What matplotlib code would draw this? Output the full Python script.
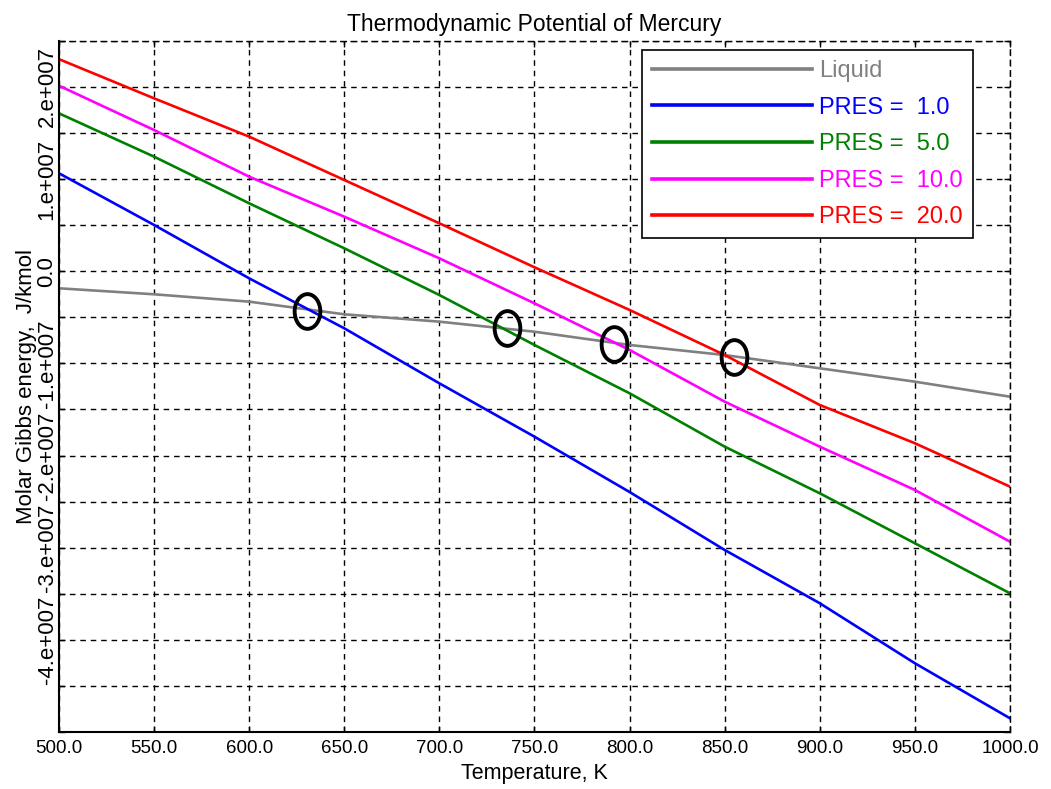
import matplotlib
matplotlib.use("Agg")
import matplotlib.pyplot as plt
from matplotlib.path import Path
from matplotlib.ticker import FuncFormatter, MultipleLocator
import numpy as np

plt.rcParams['font.family'] = ['Liberation Sans', 'DejaVu Sans']

# temperature, K
temp = [500, 550, 600, 650, 700, 750, 800, 850, 900, 950, 1000]

# molar Gibbs energy, units of 1e7 J/kmol
g_liquid = [-0.186, -0.251, -0.331, -0.468, -0.548, -0.657, -0.801, -0.910, -1.054, -1.199, -1.362]
g_p1 = [1.062, 0.501, -0.078, -0.620, -1.217, -1.796, -2.396, -3.025, -3.603, -4.254, -4.851]
g_p5 = [1.712, 1.242, 0.736, 0.248, -0.259, -0.801, -1.325, -1.904, -2.410, -2.952, -3.495]
g_p10 = [2.012, 1.531, 1.025, 0.591, 0.139, -0.349, -0.855, -1.416, -1.904, -2.374, -2.935]
g_p20 = [2.300, 1.875, 1.459, 0.989, 0.519, 0.042, -0.421, -0.910, -1.452, -1.867, -2.338]

labels = ['Liquid', 'PRES =  1.0', 'PRES =  5.0', 'PRES =  10.0', 'PRES =  20.0']
colors = ['#808080', '#0000ff', '#008000', '#ff00ff', '#ff0000']

# crossing points (boiling temperatures) marked with rings
mark_T = [630.4, 735.5, 791.8, 854.9]
mark_G = [-0.432, -0.617, -0.790, -0.931]

fig = plt.figure(figsize=(10.51, 7.89), dpi=100)
ax = fig.add_axes([0.0561, 0.0722, 0.9049, 0.8762])

scale = 1e7
for g, lab, col in zip([g_liquid, g_p1, g_p5, g_p10, g_p20], labels, colors):
    ax.plot(temp, np.array(g) * scale, color=col, lw=1.9, label=lab)

# tall open ring marker
circ = Path.unit_circle()
ring = Path(circ.vertices * np.array([0.74, 1.0]), circ.codes)
ax.plot(mark_T, np.array(mark_G) * scale, ls='none', marker=ring, ms=25,
        mfc='none', mec='black', mew=2.8, zorder=5)

ax.set_xlim(500, 1000)
ax.set_ylim(-5.0e7, 2.5e7)
ax.xaxis.set_major_locator(MultipleLocator(50))
ax.yaxis.set_major_locator(MultipleLocator(0.5e7))
ax.xaxis.set_major_formatter(FuncFormatter(lambda v, p: '%.1f' % v))


def ylab(v, p):
    k = v / 1e7
    if abs(k) < 1e-9:
        return '0.0'
    if abs(k - round(k)) > 1e-9 or k < -4.5 or k > 2.4:
        return ''
    return '%d.e+007' % round(k)


ax.yaxis.set_major_formatter(FuncFormatter(ylab))
ax.grid(True, color='black', ls=(0, (4, 3.5)), lw=1.0)
ax.tick_params(direction='in', length=4, width=1, top=True, right=True, colors='black')
ax.tick_params(axis='x', labelsize=13.5, pad=6)
ax.tick_params(axis='y', labelsize=16, pad=1)
for t in ax.get_yticklabels():
    t.set_rotation(90)
    t.set_va('center')

for s in ['left', 'bottom']:
    ax.spines[s].set_linewidth(1.5)
for s in ['top', 'right']:
    ax.spines[s].set_linestyle((0, (4, 3.5)))
    ax.spines[s].set_linewidth(1.0)

ax.set_title('Thermodynamic Potential of Mercury', fontsize=16.5, pad=7)
ax.set_xlabel('Temperature, K', fontsize=15.5, labelpad=4)
ax.set_ylabel('Molar Gibbs energy,  J/kmol', fontsize=16, labelpad=0)

leg = ax.legend(loc='upper right', bbox_to_anchor=(0.961, 0.9866), borderaxespad=0,
                fontsize=17, handlelength=6.8, handletextpad=0.3, labelspacing=0.62,
                borderpad=0.42, fancybox=False, framealpha=1, edgecolor='black',
                labelcolor='linecolor')
leg.get_frame().set_linewidth(1.2)
for h in leg.get_lines():
    h.set_linewidth(2.6)

fig.savefig('out.png', dpi=100)
